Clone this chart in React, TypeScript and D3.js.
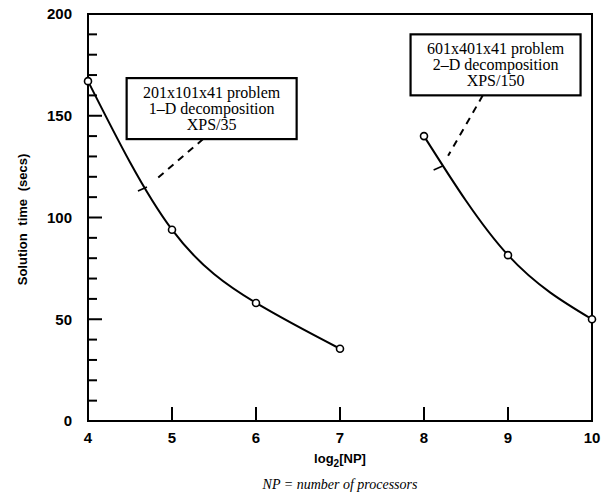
import React, { useRef, useEffect } from 'react';
import * as d3 from 'd3';

// data
const xTicks = [4, 5, 6, 7, 8, 9, 10];
const yMajorTicks = [0, 50, 100, 150, 200];
const yMinorTicks = [10, 20, 30, 40, 60, 70, 80, 90, 110, 120, 130, 140, 160, 170, 180, 190];

const series1X = [4, 5, 6, 7];
const series1Y = [167, 94, 58, 35.5];
const series2X = [8, 9, 10];
const series2Y = [140, 81.5, 50];

const noteLines1 = ['201x101x41 problem', '1\u2013D decomposition', 'XPS/35'];
const noteLines2 = ['601x401x41 problem', '2\u2013D decomposition', 'XPS/150'];
// where each note's leader points to (data units), box top-left (data units) and leader start x
const noteTarget1 = [4.69, 114.5];
const noteTarget2 = [8.21, 124.8];
const noteBox1 = [4.46, 168.5];
const noteBox2 = [7.84, 190];
const noteStart1 = 5.37;
const noteStart2 = 8.7;

const W = 609;
const H = 499;
const margin = { left: 88, right: 17, top: 14, bottom: 78 };

const App = () => {
    const svgRef = useRef(null);

    useEffect(() => {
        const svg = d3.select(svgRef.current);
        svg.selectAll('*').remove();

        const x = d3.scaleLinear().domain([4, 10]).range([margin.left, W - margin.right]);
        const y = d3.scaleLinear().domain([0, 200]).range([H - margin.bottom, margin.top]);

        const sans = "'Liberation Sans', Arial, Helvetica, sans-serif";
        const serif = "'Liberation Serif', 'Times New Roman', serif";

        // frame
        svg.append('rect')
            .attr('x', x(4)).attr('y', y(200))
            .attr('width', x(10) - x(4)).attr('height', y(0) - y(200))
            .attr('fill', 'none').attr('stroke', '#000').attr('stroke-width', 2);

        // y ticks (inward)
        svg.selectAll('.ymaj').data(yMajorTicks.filter(d => d > 0 && d < 200)).enter().append('line')
            .attr('x1', x(4)).attr('x2', x(4) + 14)
            .attr('y1', d => y(d)).attr('y2', d => y(d))
            .attr('stroke', '#000').attr('stroke-width', 2);
        svg.selectAll('.ymin').data(yMinorTicks).enter().append('line')
            .attr('x1', x(4)).attr('x2', x(4) + 9)
            .attr('y1', d => y(d)).attr('y2', d => y(d))
            .attr('stroke', '#000').attr('stroke-width', 2);

        svg.selectAll('.ylab').data(yMajorTicks).enter().append('text')
            .attr('x', x(4) - 16).attr('y', d => y(d)).attr('dy', '0.36em')
            .attr('text-anchor', 'end')
            .style('font-family', sans).style('font-weight', 'bold').style('font-size', '15px')
            .text(d => d);

        // x ticks
        svg.selectAll('.xmaj').data(xTicks.filter(d => d > 4 && d < 10)).enter().append('line')
            .attr('x1', d => x(d)).attr('x2', d => x(d))
            .attr('y1', y(0)).attr('y2', y(0) - 14)
            .attr('stroke', '#000').attr('stroke-width', 2);

        svg.selectAll('.xlab').data(xTicks).enter().append('text')
            .attr('x', d => x(d)).attr('y', y(0) + 22)
            .attr('text-anchor', 'middle')
            .style('font-family', sans).style('font-weight', 'bold').style('font-size', '15px')
            .text(d => d);

        // axis titles
        const xt = svg.append('text')
            .attr('x', (x(4) + x(10)) / 2).attr('y', y(0) + 42)
            .attr('text-anchor', 'middle')
            .style('font-family', sans).style('font-weight', 'bold').style('font-size', '13px');
        xt.append('tspan').text('log');
        xt.append('tspan').attr('dy', 4).style('font-size', '10px').text('2');
        xt.append('tspan').attr('dy', -4).text('[NP]');

        svg.append('text')
            .attr('x', (x(4) + x(10)) / 2).attr('y', y(0) + 68)
            .attr('text-anchor', 'middle')
            .style('font-family', serif).style('font-style', 'italic').style('font-size', '14px')
            .text('NP = number of processors');

        svg.append('text')
            .attr('transform', `translate(27, ${(y(0) + y(200)) / 2 + 2}) rotate(-90)`)
            .attr('text-anchor', 'middle')
            .style('font-family', sans).style('font-weight', 'bold').style('font-size', '13px')
            .style('word-spacing', '4px')
            .text('Solution time (secs)');

        // curves + markers
        const line = d3.line().x(d => x(d[0])).y(d => y(d[1])).curve(d3.curveNatural);
        [[series1X, series1Y], [series2X, series2Y]].forEach(([xs, ys]) => {
            const pts = xs.map((v, i) => [v, ys[i]]);
            svg.append('path').datum(pts)
                .attr('d', line)
                .attr('fill', 'none').attr('stroke', '#000').attr('stroke-width', 2);
            svg.selectAll(null).data(pts).enter().append('circle')
                .attr('cx', d => x(d[0])).attr('cy', d => y(d[1])).attr('r', 3.5)
                .attr('fill', '#fff').attr('stroke', '#000').attr('stroke-width', 1.6);
        });

        // notes
        const boxW = 170;
        const boxH = 61;
        const drawNote = (lines, box, startX, target) => {
            const bx = x(box[0]);
            const by = y(box[1]);
            const tx = x(target[0]);
            const ty = y(target[1]);
            // leader from box bottom towards the curve, stopping short
            const sx = x(startX);
            const sy = by + boxH;
            const dx = tx - sx;
            const dy = ty - sy;
            const len = Math.hypot(dx, dy);
            const ex = sx + dx * (len - 13) / len;
            const ey = sy + dy * (len - 13) / len;
            svg.append('line')
                .attr('x1', sx).attr('y1', sy).attr('x2', ex).attr('y2', ey)
                .attr('stroke', '#000').attr('stroke-width', 2).attr('stroke-dasharray', '7,6');
            // little tick across the curve
            svg.append('line')
                .attr('x1', tx - 8).attr('y1', ty + 3).attr('x2', tx + 1).attr('y2', ty - 1)
                .attr('stroke', '#000').attr('stroke-width', 1.6);

            svg.append('rect')
                .attr('x', bx).attr('y', by).attr('width', boxW).attr('height', boxH)
                .attr('fill', '#fff').attr('stroke', '#000').attr('stroke-width', 2.2);
            svg.append('g').selectAll('text').data(lines).enter().append('text')
                .attr('x', bx + boxW / 2)
                .attr('y', (d, i) => by + boxH / 2 + 5.5 + (i - 1) * 16)
                .attr('text-anchor', 'middle')
                .style('font-family', serif).style('font-size', '16px')
                .text(d => d);
        };
        drawNote(noteLines1, noteBox1, noteStart1, noteTarget1);
        drawNote(noteLines2, noteBox2, noteStart2, noteTarget2);
    }, []);

    return (
        <div style={{ position: 'absolute', left: 0, top: 0, width: W, height: H, background: '#fff' }}>
            <svg ref={svgRef} width={W} height={H}></svg>
        </div>
    );
};

export default App;
